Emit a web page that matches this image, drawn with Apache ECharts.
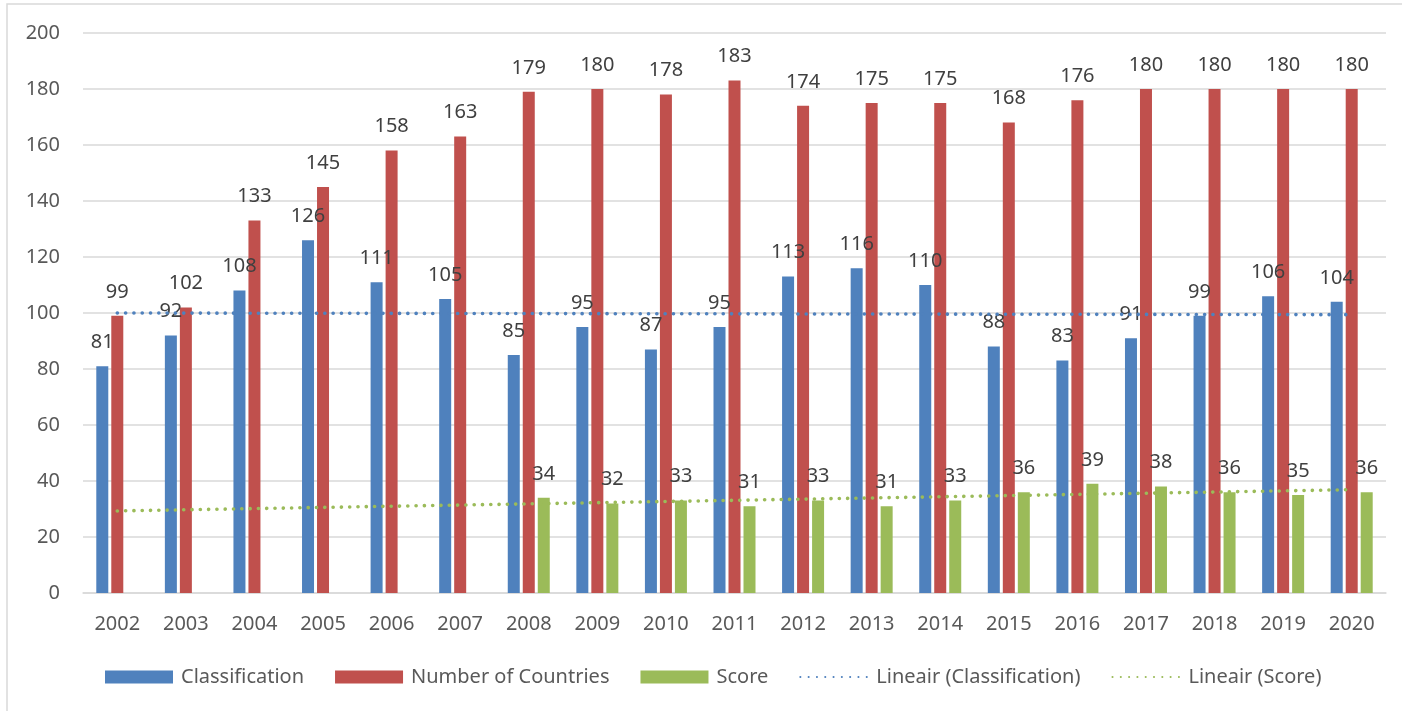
<!DOCTYPE html>
<html>

<head>
    <meta charset="utf-8">
    <title>Classification</title>
    <script src="https://cdn.jsdelivr.net/npm/echarts@6/dist/echarts.min.js"></script>
    <style>
        html,
        body {
            margin: 0;
            padding: 0;
            background: #fff;
        }

        #main {
            width: 1402px;
            height: 711px;
        }
    </style>
</head>

<body>
    <div id="main"></div>
    <script type="text/javascript">
        // data
        var years = ['2002', '2003', '2004', '2005', '2006', '2007', '2008', '2009', '2010', '2011',
            '2012', '2013', '2014', '2015', '2016', '2017', '2018', '2019', '2020'];
        var classification = [81, 92, 108, 126, 111, 105, 85, 95, 87, 95, 113, 116, 110, 88, 83, 91, 99, 106, 104];
        var countries = [99, 102, 133, 145, 158, 163, 179, 180, 178, 183, 174, 175, 175, 168, 176, 180, 180, 180, 180];
        var score = [null, null, null, null, null, null, 34, 32, 33, 31, 33, 31, 33, 36, 39, 38, 36, 35, 36];
        // trend lines: only the two end values, straight line between them
        var trendClass = [100.0, null, null, null, null, null, null, null, null, null,
            null, null, null, null, null, null, null, null, 99.4];
        var trendScore = [29.3, null, null, null, null, null, null, null, null, null,
            null, null, null, null, null, null, null, null, 36.9];
        var yTicks = { min: 0, max: 200, step: 20 };

        var font = '"Noto Sans", "Open Sans", sans-serif';
        var blue = '#4F81BD', red = '#C0504D', green = '#9BBB59';

        var barLabel = {
            show: true,
            position: 'top',
            distance: 14,
            color: '#404040',
            fontFamily: font,
            fontSize: 20
        };

        function barSeries(name, data, color) {
            return {
                name: name,
                type: 'bar',
                data: data,
                barWidth: 12,
                barGap: '25%',
                itemStyle: { color: color },
                label: barLabel,
                z: 2
            };
        }

        function trendSeries(name, data, color) {
            return {
                name: name,
                type: 'line',
                data: data,
                connectNulls: true,
                symbol: 'none',
                silent: true,
                lineStyle: { color: color, width: 3.6, type: [0.1, 8.2], cap: 'round' },
                // transparent so the legend shows only the dotted line
                itemStyle: { color: 'rgba(0,0,0,0)' },
                z: 3
            };
        }

        var myChart = echarts.init(document.getElementById('main'));
        var option = {
            animation: false,
            backgroundColor: '#fff',
            graphic: [{
                type: 'rect',
                shape: { x: 7, y: 4, width: 1420, height: 730 },
                style: { fill: 'none', stroke: '#d9d9d9', lineWidth: 1.5 },
                silent: true
            }],
            grid: { left: 83, right: 16, top: 33, bottom: 118, containLabel: false },
            legend: {
                left: 105,
                top: 667,
                padding: 0,
                itemWidth: 68,
                itemHeight: 13,
                itemGap: 31,
                textStyle: { color: '#595959', fontFamily: font, fontSize: 20, padding: [0, 0, 0, 3] },
                data: [
                    { name: 'Classification', icon: 'rect' },
                    { name: 'Number of Countries', icon: 'rect' },
                    { name: 'Score', icon: 'rect' },
                    { name: 'Lineair (Classification)' },
                    { name: 'Lineair (Score)' }
                ]
            },
            xAxis: {
                type: 'category',
                data: years,
                axisLine: { lineStyle: { color: '#d9d9d9', width: 1.5 } },
                axisTick: { show: false },
                axisLabel: { color: '#595959', fontFamily: font, fontSize: 20, margin: 21 }
            },
            yAxis: {
                type: 'value',
                min: yTicks.min,
                max: yTicks.max,
                interval: yTicks.step,
                axisLine: { show: false },
                axisTick: { show: false },
                splitLine: { lineStyle: { color: '#d9d9d9', width: 1.5 } },
                axisLabel: { color: '#595959', fontFamily: font, fontSize: 20, margin: 23 }
            },
            series: [
                barSeries('Classification', classification, blue),
                barSeries('Number of Countries', countries, red),
                barSeries('Score', score, green),
                trendSeries('Lineair (Classification)', trendClass, blue),
                trendSeries('Lineair (Score)', trendScore, green)
            ]
        };
        myChart.setOption(option);
    </script>
</body>

</html>
